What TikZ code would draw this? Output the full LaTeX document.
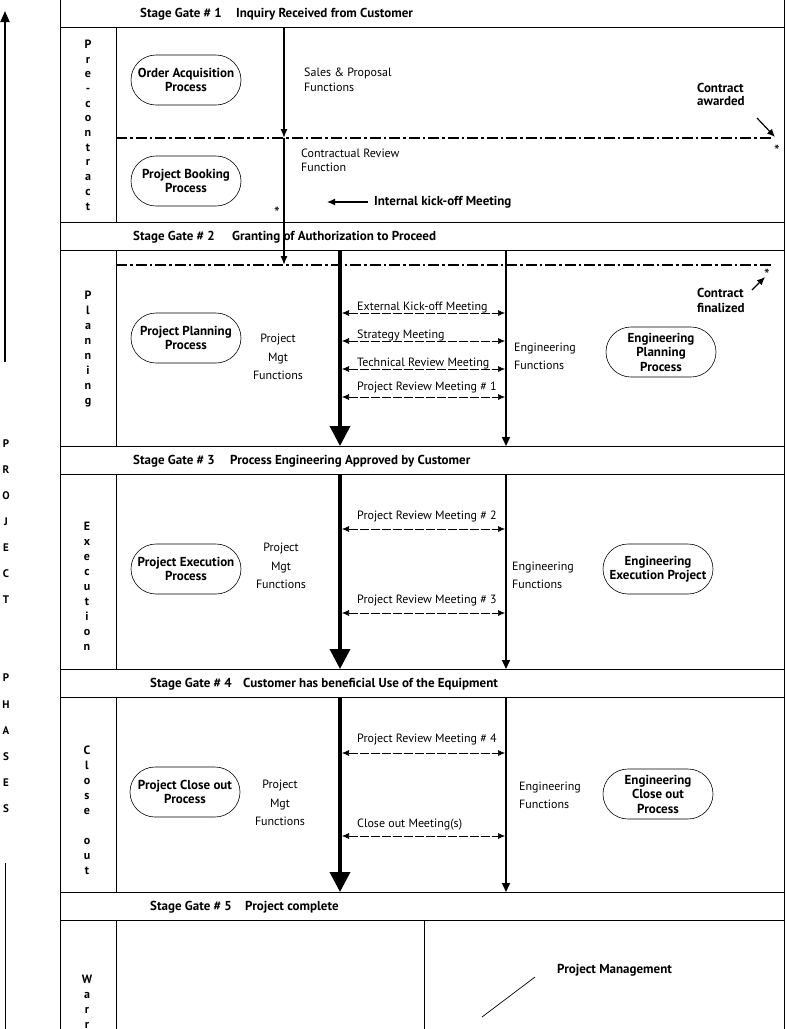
\documentclass[tikz,border=0pt]{standalone}
\usepackage{fontspec}
\setmainfont{PT Sans}
\usepackage{tikz}
\usetikzlibrary{arrows}
\usetikzlibrary{arrows.meta}
\usetikzlibrary {positioning}
\usetikzlibrary{shapes.misc}
\tikzset{proc node/.style={rounded rectangle,draw,line width=0.6pt,minimum width=112pt,minimum height=50pt,inner sep=1pt,align=center,font=\fontsize{13}{14.5}\selectfont\bfseries}}
\tikzset{gate node/.style={anchor=west,inner sep=0pt,font=\fontsize{13}{14}\selectfont\bfseries}}
\tikzset{func node/.style={inner sep=0pt,align=center,font=\fontsize{12}{18.5}\selectfont}}
\tikzset{note node/.style={anchor=west,inner sep=0pt,align=left,font=\fontsize{12}{15}\selectfont}}
\tikzset{bold note/.style={anchor=west,inner sep=0pt,align=left,font=\fontsize{13}{13.5}\selectfont\bfseries}}
\tikzset{phase node/.style={inner sep=0pt,align=center,font=\fontsize{12}{15}\selectfont\bfseries}}
\tikzset{star node/.style={inner sep=0pt,font=\fontsize{16}{16}\selectfont}}
\tikzset{meet line/.style={{Latex[length=7pt,width=6pt]}-{Latex[length=7pt,width=6pt]},dash pattern=on 9pt off 2pt,line width=0.6pt}}
\tikzset{gate line/.style={line width=1.4pt,dash pattern=on 11pt off 3pt on 2.5pt off 3pt}}
\tikzset{frame line/.style={line width=0.9pt}}

\begin{document}
\begin{tikzpicture}[x=1pt,y=-1pt]
	\useasboundingbox (0,0) rectangle (787,1029);

	\draw[frame line] (60,0) -- (60,1029);
	\draw[frame line] (784,0) -- (784,1029);
	\foreach \y in {27,222,250,446,474,669,697,892,920}
		\draw[frame line] (60,\y) -- (784,\y);
	\foreach \a/\b in {27/222,250/446,474/669,697/892,920/1029}
		\draw[frame line] (116,\a) -- (116,\b);
	\draw[frame line] (424,920) -- (424,1029);

	\coordinate (up_{1}) at (5,362);
	\coordinate (up_{2}) at (5,11);
	\draw[line width=1.8pt,-{Triangle[length=11pt,width=9pt]}] (up_{1}) -- (up_{2});
	\coordinate (up_{3}) at (5,863);
	\coordinate (up_{4}) at (5,1029);
	\draw[line width=0.9pt] (up_{3}) -- (up_{4});
	\node[phase node,font=\fontsize{11}{26.07}\selectfont\bfseries] (phases) at (6,626) {P\\R\\O\\J\\E\\C\\T\\ \\ \\P\\H\\A\\S\\E\\S};

	\node[gate node] (g_{1}) at (140,14) {Stage Gate \# 1};
	\node[gate node] (t_{1}) at (236,14) {Inquiry Received from Customer};
	\node[gate node] (g_{2}) at (133,237) {Stage Gate \# 2};
	\node[gate node] (t_{2}) at (232,237) {Granting of Authorization to Proceed};
	\node[gate node] (g_{3}) at (133,461) {Stage Gate \# 3};
	\node[gate node] (t_{3}) at (230,461) {Process Engineering Approved by Customer};
	\node[gate node] (g_{4}) at (150,684) {Stage Gate \# 4};
	\node[gate node] (t_{4}) at (243,684) {Customer has beneficial Use of the Equipment};
	\node[gate node] (g_{5}) at (150,907) {Stage Gate \# 5};
	\node[gate node] (t_{5}) at (245,907) {Project complete};

	\node[phase node,font=\fontsize{12}{14.7}\selectfont\bfseries] (pre) at (88,125) {P\\r\\e\\-\\c\\o\\n\\t\\r\\a\\c\\t};
	\node[phase node] (plan) at (88,349) {P\\l\\a\\n\\n\\i\\n\\g};
	\node[phase node] (exec) at (87,586) {E\\x\\e\\c\\u\\t\\i\\o\\n};
	\node[phase node] (close) at (87,810) {C\\l\\o\\s\\e\\ \\o\\u\\t};
	\node[phase node,anchor=north] (warr) at (87,975) {W\\a\\r\\r};

	\node[proc node] (oa) at (186,80) {Order Acquisition\\Process};
	\node[proc node] (pb) at (186,181) {Project Booking\\Process};
	\node[proc node] (pp) at (186,338) {Project Planning\\Process};
	\node[proc node] (pe) at (186,569) {Project Execution\\Process};
	\node[proc node] (pc) at (185,792) {Project Close out\\Process};
	\node[proc node] (ep) at (661,352) {Engineering\\Planning\\Process};
	\node[proc node] (ee) at (658,569) {Engineering\\Execution Project};
	\node[proc node] (ec) at (658,794) {Engineering\\Close out\\Process};

	\node[note node] (sales) at (304,79.5) {Sales \& Proposal\\Functions};
	\node[note node,font=\fontsize{12}{14}\selectfont] (review) at (301,160) {Contractual Review\\Function};
	\node[bold note] (award) at (697,94.5) {Contract\\awarded};
	\node[bold note,font=\fontsize{13}{15}\selectfont\bfseries] (final) at (697,300.5) {Contract\\finalized};
	\node[bold note] (kick) at (374,202) {Internal kick-off Meeting};
	\node[bold note] (pmgt) at (557,970) {Project Management};

	\node[star node] (st_{1}) at (777,151) {*};
	\node[star node] (st_{2}) at (767,275) {*};
	\node[star node] (st_{3}) at (277,213) {*};

	\coordinate (ca_{1}) at (116,138);
	\coordinate (ca_{2}) at (773,138);
	\draw[gate line] (ca_{1}) -- (ca_{2});
	\coordinate (cf_{1}) at (116,265);
	\coordinate (cf_{2}) at (772,265);
	\draw[gate line] (cf_{1}) -- (cf_{2});

	\coordinate (in_{1}) at (284,27);
	\coordinate (in_{2}) at (284,138);
	\coordinate (in_{3}) at (284,265);
	\draw[line width=1.4pt,-{Latex[length=9pt,width=7pt]}] (in_{1}) -- (in_{2});
	\draw[line width=1.4pt,-{Latex[length=9pt,width=7pt]}] (in_{2}) -- (in_{3});

	\coordinate (aw_{1}) at (757,118);
	\coordinate (aw_{2}) at (775,137);
	\draw[line width=1.2pt,-{Latex[length=8pt,width=7pt]}] (aw_{1}) -- (aw_{2});
	\coordinate (fi_{1}) at (752,290);
	\coordinate (fi_{2}) at (765,277);
	\draw[line width=1.2pt,-{Latex[length=8pt,width=7pt]}] (fi_{1}) -- (fi_{2});

	\coordinate[left=47pt of kick.west] (kick end);
	\draw[line width=1.3pt,-{Latex[length=8pt,width=7pt]}] ([xshift=-6pt]kick.west) -- (kick end);

	\coordinate (wl_{1}) at (482,1017);
	\coordinate (wl_{2}) at (535,977);
	\draw[line width=0.7pt] (wl_{1}) -- (wl_{2});

	\foreach \i/\a/\b in {1/250/446,2/474/669,3/697/892}{
		\coordinate (pm_{\i}) at (340,\a);
		\coordinate (pmend_{\i}) at (340,\b);
		\draw[line width=3.6pt,-{Triangle[length=20pt,width=20pt]}] (pm_{\i}) -- (pmend_{\i});
		\coordinate (en_{\i}) at (506,\a);
		\coordinate (enend_{\i}) at (506,\b);
		\draw[line width=1.5pt,-{Triangle[length=9pt,width=8pt]}] (en_{\i}) -- (enend_{\i});
	}

	\node[func node] (pmf_{1}) at (278,357) {Project\\Mgt\\Functions};
	\node[func node] (pmf_{2}) at (281,566) {Project\\Mgt\\Functions};
	\node[func node] (pmf_{3}) at (280,803) {Project\\Mgt\\Functions};
	\node[note node,font=\fontsize{12}{18}\selectfont] (enf_{1}) at (514,356) {Engineering\\Functions};
	\node[note node,font=\fontsize{12}{18}\selectfont] (enf_{2}) at (512,575) {Engineering\\Functions};
	\node[note node,font=\fontsize{12}{18}\selectfont] (enf_{3}) at (519,795.5) {Engineering\\Functions};

	\foreach \y/\d/\t in {313/3/External Kick-off Meeting,341/3/Strategy Meeting,369/3/Technical Review Meeting,397/7/Project Review Meeting \# 1,529/10/Project Review Meeting \# 2,613/10/Project Review Meeting \# 3,753/11/Project Review Meeting \# 4,836/9/Close out Meeting(s)}{
		\coordinate (ml_{\y}) at (342,\y);
		\coordinate (mr_{\y}) at (505,\y);
		\draw[meet line] (ml_{\y}) -- (mr_{\y});
		\node[anchor=base west,inner sep=0pt,font=\fontsize{12}{14}\selectfont] (mt_{\y}) at (357,\y-\d) {\t};
	}
\end{tikzpicture}
\end{document}
